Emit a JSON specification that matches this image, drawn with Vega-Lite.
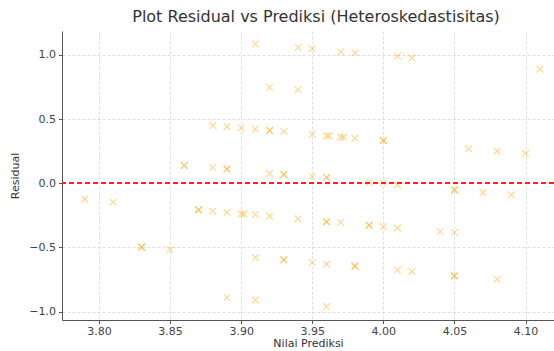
{
  "$schema": "https://vega.github.io/schema/vega-lite/v6.json",
  "autosize": "none",
  "padding": {"left": 62, "top": 31, "right": 0, "bottom": 31},
  "width": 492,
  "height": 289,
  "title": {"text": "Plot Residual vs Prediksi (Heteroskedastisitas)", "fontSize": 16, "fontWeight": "normal", "color": "#333333", "dx": 8, "offset": 6, "font": "DejaVu Sans"},
  "data": {"values": [
    {"pred": 3.79, "res": -0.123},
    {"pred": 3.81, "res": -0.147},
    {"pred": 3.83, "res": -0.497},
    {"pred": 3.83, "res": -0.497},
    {"pred": 3.85, "res": -0.518},
    {"pred": 3.86, "res": 0.139},
    {"pred": 3.86, "res": 0.139},
    {"pred": 3.87, "res": -0.207},
    {"pred": 3.87, "res": -0.207},
    {"pred": 3.88, "res": 0.450},
    {"pred": 3.88, "res": 0.123},
    {"pred": 3.88, "res": -0.217},
    {"pred": 3.89, "res": 0.442},
    {"pred": 3.89, "res": 0.111},
    {"pred": 3.89, "res": 0.111},
    {"pred": 3.89, "res": -0.228},
    {"pred": 3.89, "res": -0.890},
    {"pred": 3.90, "res": 0.433},
    {"pred": 3.90, "res": -0.238},
    {"pred": 3.902, "res": -0.238},
    {"pred": 3.91, "res": 1.087},
    {"pred": 3.91, "res": 0.422},
    {"pred": 3.91, "res": -0.243},
    {"pred": 3.91, "res": -0.578},
    {"pred": 3.91, "res": -0.908},
    {"pred": 3.92, "res": 0.747},
    {"pred": 3.92, "res": 0.412},
    {"pred": 3.92, "res": 0.412},
    {"pred": 3.92, "res": 0.076},
    {"pred": 3.92, "res": -0.256},
    {"pred": 3.93, "res": 0.404},
    {"pred": 3.93, "res": 0.069},
    {"pred": 3.93, "res": 0.069},
    {"pred": 3.93, "res": -0.596},
    {"pred": 3.93, "res": -0.596},
    {"pred": 3.94, "res": 1.058},
    {"pred": 3.94, "res": 0.729},
    {"pred": 3.94, "res": -0.277},
    {"pred": 3.95, "res": 1.048},
    {"pred": 3.95, "res": 0.383},
    {"pred": 3.95, "res": 0.053},
    {"pred": 3.95, "res": -0.617},
    {"pred": 3.96, "res": 0.370},
    {"pred": 3.962, "res": 0.370},
    {"pred": 3.96, "res": 0.045},
    {"pred": 3.96, "res": 0.045},
    {"pred": 3.96, "res": -0.300},
    {"pred": 3.96, "res": -0.300},
    {"pred": 3.96, "res": -0.630},
    {"pred": 3.96, "res": -0.960},
    {"pred": 3.97, "res": 1.025},
    {"pred": 3.97, "res": 0.360},
    {"pred": 3.972, "res": 0.360},
    {"pred": 3.97, "res": -0.305},
    {"pred": 3.98, "res": 1.017},
    {"pred": 3.98, "res": 0.352},
    {"pred": 3.98, "res": -0.645},
    {"pred": 3.98, "res": -0.645},
    {"pred": 3.99, "res": 0.006},
    {"pred": 3.99, "res": -0.326},
    {"pred": 3.99, "res": -0.326},
    {"pred": 4.00, "res": 0.333},
    {"pred": 4.00, "res": 0.333},
    {"pred": 4.00, "res": 0.002},
    {"pred": 4.00, "res": -0.337},
    {"pred": 4.01, "res": 0.990},
    {"pred": 4.01, "res": -0.012},
    {"pred": 4.01, "res": -0.349},
    {"pred": 4.01, "res": -0.677},
    {"pred": 4.02, "res": 0.976},
    {"pred": 4.02, "res": -0.687},
    {"pred": 4.04, "res": -0.375},
    {"pred": 4.05, "res": -0.051},
    {"pred": 4.05, "res": -0.051},
    {"pred": 4.05, "res": -0.383},
    {"pred": 4.05, "res": -0.721},
    {"pred": 4.05, "res": -0.721},
    {"pred": 4.06, "res": 0.269},
    {"pred": 4.07, "res": -0.072},
    {"pred": 4.08, "res": 0.251},
    {"pred": 4.08, "res": -0.747},
    {"pred": 4.09, "res": -0.090},
    {"pred": 4.10, "res": 0.232},
    {"pred": 4.11, "res": 0.890}
  ]},
  "layer": [
    {
      "mark": {"type": "point", "shape": "M-1,-1L1,1M-1,1L1,-1", "filled": false, "stroke": "#FFA500", "strokeOpacity": 0.6, "strokeWidth": 1.2, "size": 45, "clip": true},
      "encoding": {
        "x": {"field": "pred", "type": "quantitative", "scale": {"domain": [3.774, 4.12], "nice": false, "zero": false},
              "axis": {"values": [3.80, 3.85, 3.90, 3.95, 4.00, 4.05, 4.10], "format": ".2f", "title": "Nilai Prediksi"}},
        "y": {"field": "res", "type": "quantitative", "scale": {"domain": [-1.065, 1.187], "nice": false, "zero": false},
              "axis": {"values": [-1, -0.5, 0, 0.5, 1], "format": ".1f", "title": "Residual"}}
      }
    },
    {
      "mark": {"type": "rule", "color": "#ff2020", "opacity": 0.75, "strokeDash": [5, 3], "strokeWidth": 1.4},
      "encoding": {"y": {"datum": 0}}
    }
  ],
  "config": {
    "font": "DejaVu Sans",
    "view": {"stroke": null},
    "axis": {
      "labelFont": "DejaVu Sans",
      "titleFont": "DejaVu Sans",
      "labelFontSize": 11,
      "titleFontSize": 11,
      "titleFontWeight": "normal",
      "labelColor": "#444444",
      "titleColor": "#333333",
      "domainColor": "#555555",
      "domainWidth": 1,
      "tickColor": "#555555",
      "tickSize": 3.5,
      "labelPadding": 3,
      "grid": true,
      "gridColor": "#cccccc",
      "gridDash": [3, 2],
      "gridWidth": 0.8,
      "gridOpacity": 0.8
    },
    "axisX": {"titlePadding": 1, "labelFlush": false, "labelPadding": 2},
    "axisY": {"titlePadding": 8, "labelFlush": false}
  }
}
